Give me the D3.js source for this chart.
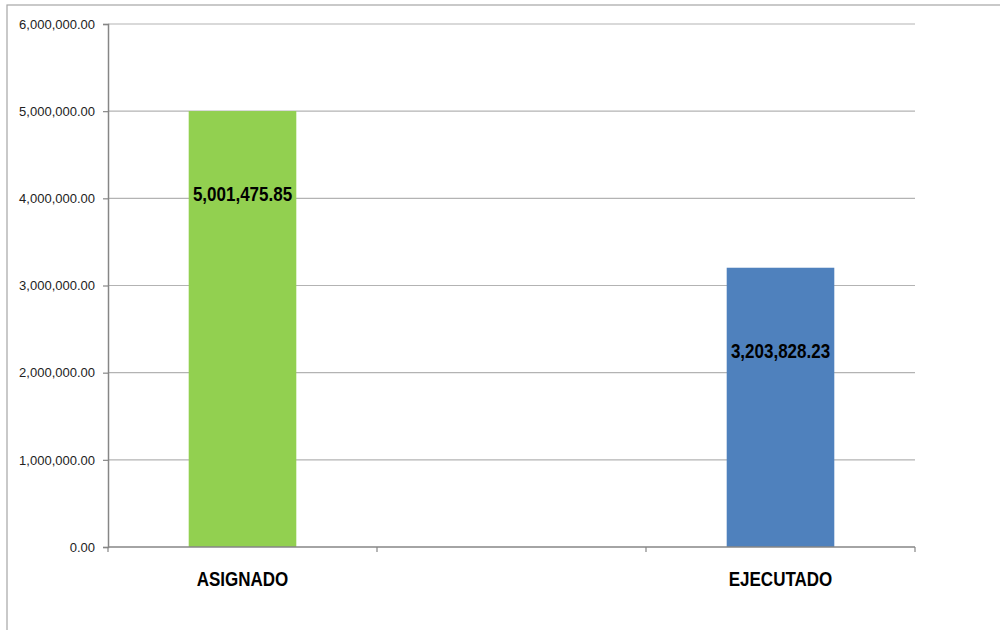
<!DOCTYPE html>
<html>
<head>
<meta charset="utf-8">
<script src="https://cdn.jsdelivr.net/npm/d3@7"></script>
<style>
  body { margin: 0; background: #fff; }
  svg { display: block; }
</style>
</head>
<body>
<svg id="chart"></svg>
<script>
// Chart data
var categories = ["ASIGNADO", "", "EJECUTADO"];
var values = [5001475.85, null, 3203828.23];
var barColors = ["#92D050", null, "#4F81BD"];
var yTicks = [0, 1000000, 2000000, 3000000, 4000000, 5000000, 6000000];

var width = 1000,
    height = 630,
    margin = { top: 24, right: 85, bottom: 83, left: 108 };

var svg = d3.select("#chart")
  .attr("width", width)
  .attr("height", height);

// Outer chart frame
svg.append("rect")
  .attr("x", 7)
  .attr("y", 5)
  .attr("width", width + 10)
  .attr("height", height + 10)
  .attr("fill", "none")
  .attr("stroke", "#a6a6a6")
  .attr("stroke-width", 1.2);

var x = d3.scaleBand()
  .domain(d3.range(categories.length))
  .range([margin.left, width - margin.right])
  .paddingInner(0)
  .paddingOuter(0);

var y = d3.scaleLinear()
  .domain([0, 6000000])
  .range([height - margin.bottom, margin.top]);

var fmt = d3.format(",.2f");

// keep the category index with each value, skip the empty slot
var barData = values
  .map(function (v, i) { return { i: i, value: v, color: barColors[i] }; })
  .filter(function (d) { return d.value != null; });

var labelFont = "'Liberation Sans', Arial, sans-serif";

// Gridlines
svg.append("g")
  .selectAll("line")
  .data(yTicks.slice(1))
  .enter().append("line")
  .attr("x1", margin.left)
  .attr("x2", width - margin.right)
  .attr("y1", function (d) { return y(d); })
  .attr("y2", function (d) { return y(d); })
  .attr("stroke", "#b3b3b3")
  .attr("stroke-width", 1.2);

// Y axis
var yAxis = svg.append("g")
  .attr("transform", "translate(" + margin.left + ",0)")
  .call(d3.axisLeft(y).tickValues(yTicks).tickFormat(fmt).tickSize(5).tickPadding(8));

yAxis.select(".domain").attr("stroke", "#868686").attr("stroke-width", 1.5);
yAxis.selectAll(".tick line").attr("stroke", "#868686").attr("stroke-width", 1.2);
yAxis.selectAll(".tick text")
  .attr("fill", "#222")
  .style("font-family", labelFont)
  .style("font-size", "13px");

// Bars
svg.append("g")
  .selectAll("rect")
  .data(barData)
  .enter().append("rect")
  .attr("x", function (d) { return x(d.i) + x.bandwidth() * 0.3; })
  .attr("width", x.bandwidth() * 0.4)
  .attr("y", function (d) { return y(d.value); })
  .attr("height", function (d) { return y(0) - y(d.value); })
  .attr("fill", function (d) { return d.color; });

// X axis
var xAxis = svg.append("g")
  .attr("transform", "translate(0," + y(0) + ")");

xAxis.append("line")
  .attr("x1", margin.left)
  .attr("x2", width - margin.right)
  .attr("stroke", "#868686")
  .attr("stroke-width", 1.5);

xAxis.selectAll(".xtick")
  .data(d3.range(categories.length + 1))
  .enter().append("line")
  .attr("class", "xtick")
  .attr("x1", function (d) { return margin.left + d * x.step(); })
  .attr("x2", function (d) { return margin.left + d * x.step(); })
  .attr("y1", 0)
  .attr("y2", 5)
  .attr("stroke", "#868686")
  .attr("stroke-width", 1.2);

// narrow bold look: Liberation Sans bold squeezed horizontally
xAxis.selectAll(".xlabel")
  .data(categories)
  .enter().append("text")
  .attr("class", "xlabel")
  .attr("transform", function (d, i) {
    return "translate(" + (x(i) + x.bandwidth() / 2) + ",39)scale(0.85,1)";
  })
  .attr("text-anchor", "middle")
  .attr("fill", "#000")
  .style("font-family", labelFont)
  .style("font-weight", "bold")
  .style("font-size", "20px")
  .text(function (d) { return d; });

// Value labels
svg.append("g")
  .selectAll("text")
  .data(barData)
  .enter().append("text")
  .attr("transform", function (d) {
    return "translate(" + (x(d.i) + x.bandwidth() / 2) + "," + (y(d.value) + 90) + ")scale(0.85,1)";
  })
  .attr("text-anchor", "middle")
  .attr("fill", "#000")
  .style("font-family", labelFont)
  .style("font-weight", "bold")
  .style("font-size", "20px")
  .text(function (d) { return fmt(d.value); });
</script>
</body>
</html>
